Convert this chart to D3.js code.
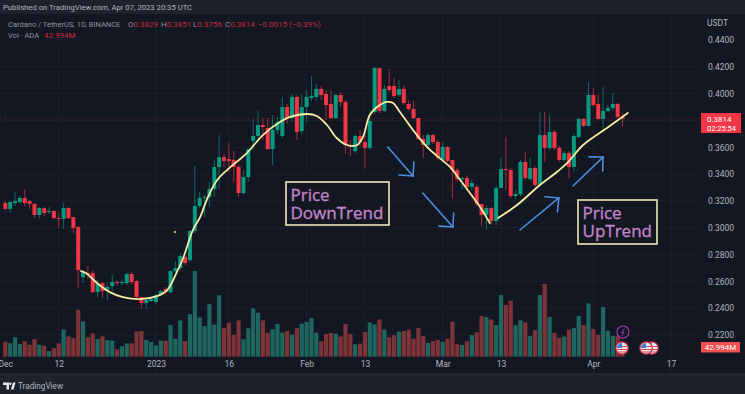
<!DOCTYPE html>
<html>
<head>
<meta charset="utf-8">
<script src="https://cdn.jsdelivr.net/npm/d3@7"></script>
<style>
  html, body { margin: 0; padding: 0; background: #131722; overflow: hidden; }
  text { font-family: Roboto, "Liberation Sans", sans-serif; }
</style>
</head>
<body>
<div id="chart"></div>
<script>
// Daily ADA/USDT candles, 1 Dec 2022 (day 0) to 7 Apr 2023 (day 127)
const opens = [
  .3184,.3140,.3184,.3192,.3222,.3199,.3177,.3095,.3147,.3117,
  .3124,.3072,.3065,.3147,.3080,.3005,.2632,.2662,.2662,.2520,
  .2587,.2535,.2565,.2595,.2587,.2587,.2655,.2602,.2483,.2438,
  .2453,.2446,.2505,.2543,.2520,.2677,.2699,.2781,.2759,.2976,
  .3162,.3222,.3229,.3289,.3453,.3527,.3512,.3505,.3453,.3259,
  .3378,.3647,.3684,.3766,.3744,.3587,.3729,.3684,.3900,.3818,
  .3975,.3721,.3900,.3967,.3975,.4035,.3997,.3923,.3818,.3990,
  .3938,.3617,.3572,.3684,.3639,.3595,.3863,.4191,.3871,.4057,
  .4057,.3990,.4035,.3923,.3885,.3818,.3662,.3617,.3691,.3639,
  .3505,.3602,.3505,.3430,.3363,.3371,.3304,.3304,.3177,.3095,
  .3147,.3050,.3296,.3438,.3430,.3236,.3251,.3490,.3363,.3445,
  .3319,.3691,.3595,.3714,.3595,.3505,.3557,.3453,.3677,.3811,
  .3759,.3990,.3923,.3811,.3871,.3893,.3923,.3829
];
const closes = [
  .3140,.3192,.3199,.3222,.3184,.3177,.3095,.3147,.3110,.3124,
  .3072,.3065,.3147,.3072,.2998,.2684,.2669,.2647,.2520,.2587,
  .2528,.2558,.2595,.2587,.2595,.2655,.2595,.2483,.2438,.2461,
  .2468,.2498,.2528,.2520,.2677,.2699,.2789,.2737,.2976,.3162,
  .3222,.3229,.3289,.3453,.3527,.3498,.3498,.3453,.3259,.3378,
  .3587,.3684,.3766,.3751,.3587,.3729,.3788,.3900,.3818,.3975,
  .3714,.3900,.3975,.3982,.4035,.3990,.3915,.3818,.3990,.3938,
  .3617,.3602,.3684,.3639,.3595,.3796,.4191,.3871,.4035,.4027,
  .3982,.4035,.3930,.3885,.3818,.3662,.3617,.3691,.3639,.3520,
  .3602,.3498,.3430,.3363,.3371,.3304,.3334,.3177,.3095,.3147,
  .3050,.3296,.3438,.3430,.3236,.3251,.3490,.3371,.3445,.3319,
  .3691,.3595,.3714,.3595,.3505,.3557,.3453,.3684,.3811,.3759,
  .3990,.3915,.3811,.3871,.3893,.3923,.3826,.3814
];
const highs = [
  .3199,.3199,.3266,.3236,.3289,.3207,.3184,.3154,.3154,.3154,
  .3132,.3110,.3184,.3154,.3080,.3013,.2684,.2714,.2684,.2610,
  .2595,.2587,.2647,.2610,.2617,.2669,.2669,.2610,.2483,.2468,
  .2483,.2505,.2535,.2558,.2684,.2752,.2804,.2789,.2983,.3460,
  .3266,.3244,.3341,.3505,.3691,.3550,.3632,.3572,.3468,.3430,
  .3587,.3811,.3871,.3818,.3818,.3841,.3826,.3975,.3923,.3997,
  .3990,.3990,.4027,.4131,.4072,.4057,.4027,.4027,.3997,.4012,
  .3952,.3654,.3699,.3729,.3729,.3878,.4199,.4191,.4064,.4184,
  .4117,.4102,.4064,.3952,.3945,.3818,.3691,.3706,.3699,.3654,
  .3639,.3610,.3505,.3445,.3378,.3386,.3356,.3319,.3177,.3169,
  .3154,.3311,.3520,.3677,.3445,.3281,.3505,.3565,.3520,.3460,
  .3863,.3863,.3841,.3729,.3610,.3572,.3572,.3699,.3826,.3818,
  .4087,.4042,.3990,.4050,.3915,.4005,.3930,.3851
];
const lows = [
  .3132,.3110,.3162,.3177,.3162,.3140,.3072,.3072,.3087,.3102,
  .3065,.2998,.2990,.3065,.2961,.2550,.2587,.2617,.2513,.2483,
  .2475,.2461,.2528,.2572,.2565,.2572,.2580,.2468,.2393,.2393,
  .2446,.2431,.2490,.2505,.2505,.2662,.2684,.2722,.2744,.2961,
  .3147,.3080,.3154,.3236,.3289,.3453,.3416,.3341,.3229,.3244,
  .3341,.3580,.3639,.3654,.3580,.3468,.3699,.3669,.3774,.3788,
  .3654,.3699,.3788,.3945,.3945,.3952,.3803,.3811,.3811,.3900,
  .3557,.3535,.3557,.3610,.3445,.3580,.3848,.3856,.3863,.4012,
  .3967,.3975,.3915,.3871,.3811,.3654,.3520,.3602,.3624,.3505,
  .3483,.3490,.3214,.3341,.3281,.3281,.3281,.3162,.3013,.2983,
  .3020,.3020,.3296,.3281,.3222,.3214,.3236,.3356,.3349,.3304,
  .3304,.3490,.3580,.3580,.3490,.3490,.3371,.3416,.3669,.3751,
  .3751,.3908,.3803,.3729,.3863,.3878,.3818,.3756
];
// Volume in millions of ADA
const volumes = [
  66,59,86,56,68,53,78,53,49,25,
  38,59,121,90,83,207,157,86,103,78,
  90,74,71,32,46,59,59,112,114,74,
  65,50,71,71,140,80,161,69,188,380,
  174,136,233,142,272,127,151,97,161,78,
  126,214,195,161,106,121,145,106,114,97,
  127,146,154,171,106,68,100,105,102,90,
  145,100,55,58,109,152,143,165,120,86,
  96,111,114,120,80,128,92,61,69,75,
  66,80,155,55,52,69,96,108,180,176,
  165,140,273,229,248,140,161,152,92,118,
  273,322,176,106,83,89,121,127,180,140,
  236,123,97,220,115,92,92,42.994
];

// Hand-drawn yellow trend curve, split at the March low
const downCurveDay = [15.6,16.6,18.9,21.5,24.2,27.7,31.2,33.3,35.3,36.6,38.6,40.1,41.7,43.6,45.6,49.7,53,56.5,58.6,62.1,64.1,66.2,68.2,70.3,72.4,73.6,75,76.5,78.5,79.8,81.2,84.7,87.4,91.5,93.6,95.6,97.7,99.7];
const downCurvePrice = [.2677,.2662,.2587,.2520,.2483,.2468,.2490,.2535,.2669,.2774,.2983,.3080,.3229,.3356,.3430,.3557,.3691,.3788,.3826,.3848,.3833,.3766,.3669,.3617,.3617,.3677,.3841,.3900,.3938,.3930,.3863,.3691,.3580,.3453,.3356,.3259,.3154,.3035];
const upCurveDay = [101.4,105.3,110,113.5,115.8,118.9,123.8,128.1];
const upCurvePrice = [.3072,.3169,.3319,.3416,.3490,.3617,.3744,.3856];

// Blue arrows: start day, start price, end day, end price
const arrowStartDay = [78.7,85.9,105.9,116.8];
const arrowStartPrice = [.3602,.3259,.2983,.3311];
const arrowEndDay = [83.9,92.1,113.9,123];
const arrowEndPrice = [.3386,.3005,.3222,.3527];

const priceTicks = [.44,.42,.40,.38,.36,.34,.32,.30,.28,.26,.24,.22];
const timeTickDays = [0,11,31,46,62,74,90,102,121,137];
const timeTickLabels = ['Dec','12','2023','16','Feb','13','Mar','13','Apr','17'];
const lastPrice = .3814;

const W = 745, H = 394;
const BG = '#131722', STRIP = '#1e222d', GRID = '#1c202b', TXT = '#b2b5be';
const UP = '#089981', DOWN = '#f23645';
const UP_VOL = '#1f6660', DOWN_VOL = '#7d3338';
const paneTop = 14, paneBottom = 374, scaleLeft = 697;

const svg = d3.select('#chart').append('svg')
  .attr('width', W).attr('height', H).attr('viewBox', `0 0 ${W} ${H}`)
  .style('display', 'block');

svg.append('rect').attr('width', W).attr('height', H).attr('fill', BG);

// Scales
const x = d3.scaleLinear().domain([0, 127]).range([5.3, 622.5]);
const y = d3.scaleLinear().domain([.44, .22]).range([40, 335]);
const yVol = d3.scaleLinear().domain([0, 443]).range([356.7, 256.7]);

// Grid
const grid = svg.append('g');
grid.selectAll('.gx').data(timeTickDays).join('line')
  .attr('x1', d => x(d)).attr('x2', d => x(d))
  .attr('y1', paneTop).attr('y2', paneBottom)
  .attr('stroke', GRID);
grid.selectAll('.gy').data(priceTicks).join('line')
  .attr('x1', 0).attr('x2', scaleLeft)
  .attr('y1', d => y(d)).attr('y2', d => y(d))
  .attr('stroke', GRID);

// Last price line
svg.append('line')
  .attr('x1', 0).attr('x2', 701)
  .attr('y1', y(lastPrice)).attr('y2', y(lastPrice))
  .attr('stroke', '#4d1a28').attr('stroke-dasharray', '1,1');

// Volume
const days = d3.range(opens.length);
const isUp = i => closes[i] >= opens[i];
svg.append('g').selectAll('rect').data(days).join('rect')
  .attr('x', i => x(i) - 2.1).attr('width', 4.2)
  .attr('y', i => yVol(volumes[i]))
  .attr('height', i => yVol(0) - yVol(volumes[i]))
  .attr('fill', i => isUp(i) ? UP_VOL : DOWN_VOL);

// Candles
const candles = svg.append('g');
candles.selectAll('line').data(days).join('line')
  .attr('x1', i => x(i)).attr('x2', i => x(i))
  .attr('y1', i => y(highs[i])).attr('y2', i => y(lows[i]))
  .attr('stroke', i => isUp(i) ? UP : DOWN)
  .attr('stroke-opacity', 0.65);
candles.selectAll('rect').data(days).join('rect')
  .attr('x', i => x(i) - 2).attr('width', 4)
  .attr('y', i => Math.min(y(opens[i]), y(closes[i])))
  .attr('height', i => Math.max(1, Math.abs(y(opens[i]) - y(closes[i]))))
  .attr('fill', i => isUp(i) ? UP : DOWN);

// Trend curves
const curve = (dayList, priceList) => d3.line()
  .x(i => x(dayList[i])).y(i => y(priceList[i]))
  .curve(d3.curveCatmullRom)(d3.range(dayList.length));
[[downCurveDay, downCurvePrice], [upCurveDay, upCurvePrice]].forEach(([a, b]) => {
  svg.append('path').attr('d', curve(a, b))
    .attr('fill', 'none').attr('stroke', '#f6eca2')
    .attr('stroke-width', 1.8).attr('stroke-linecap', 'round');
});
svg.append('circle').attr('cx', x(35.3) - 2).attr('cy', y(.2968)).attr('r', 1)
  .attr('fill', '#f6eca2');

// Arrows
arrowStartDay.forEach((d, i) => {
  const x0 = x(d), y0 = y(arrowStartPrice[i]);
  const x1 = x(arrowEndDay[i]), y1 = y(arrowEndPrice[i]);
  const ang = Math.atan2(y0 - y1, x0 - x1);
  const g = svg.append('g').attr('stroke', '#4a8fe0').attr('stroke-width', 1.6)
    .attr('fill', 'none').attr('stroke-linecap', 'round');
  g.append('line').attr('x1', x0).attr('y1', y0).attr('x2', x1).attr('y2', y1);
  [-0.78, 0.78].forEach(t => {
    g.append('line').attr('x1', x1).attr('y1', y1)
      .attr('x2', x1 + 14 * Math.cos(ang + t))
      .attr('y2', y1 + 14 * Math.sin(ang + t));
  });
});

// Note boxes
function noteBox(bx, by, bw, bh, lines, fs) {
  svg.append('rect').attr('x', bx).attr('y', by).attr('width', bw).attr('height', bh)
    .attr('fill', BG).attr('stroke', '#efe8b4').attr('stroke-width', 1.6);
  lines.forEach((t, i) => {
    svg.append('text').attr('x', bx + 4.5).attr('y', by + 18.5 + i * 18)
      .attr('font-size', fs).attr('fill', '#c384c8')
      .attr('stroke', '#c384c8').attr('stroke-width', 0.35)
      .style('font-family', '"Open Sans", sans-serif')
      .text(t);
  });
}
noteBox(286, 182, 103, 43, ['Price', 'DownTrend'], 17);
noteBox(578, 200, 79, 44, ['Price', 'UpTrend'], 17);

// Time axis
const xAxis = d3.axisBottom(x).tickValues(timeTickDays)
  .tickFormat((d, i) => timeTickLabels[i]).tickSize(0).tickPadding(0);
const gx = svg.append('g').attr('transform', 'translate(0,361)').call(xAxis);
gx.select('.domain').remove();
gx.selectAll('text').attr('fill', TXT).attr('font-size', 8.5)
  .style('font-family', 'Roboto, sans-serif');

// Price axis
const yAxis = d3.axisRight(y).tickValues(priceTicks)
  .tickFormat(d3.format('.4f')).tickSize(0).tickPadding(0);
const gy = svg.append('g').attr('transform', 'translate(708,0)').call(yAxis);
gy.select('.domain').remove();
gy.selectAll('text').attr('fill', TXT).attr('font-size', 8.5)
  .style('font-family', 'Roboto, sans-serif');
svg.append('text').attr('x', 707).attr('y', 26).attr('font-size', 8.5).attr('fill', TXT).text('USDT');

// Last price + countdown label
svg.append('rect').attr('x', 701).attr('y', 113).attr('width', 40).attr('height', 20).attr('fill', DOWN);
svg.append('text').attr('x', 707).attr('y', 121.5).attr('font-size', 8).attr('fill', '#fff').text(d3.format('.4f')(lastPrice));
svg.append('text').attr('x', 707).attr('y', 131).attr('font-size', 7.5).attr('fill', '#fff').text('02:25:54');

// Last volume label
svg.append('rect').attr('x', 701).attr('y', 342).attr('width', 39).attr('height', 10.5).attr('fill', '#f0514f');
svg.append('text').attr('x', 720.5).attr('y', 350.3).attr('text-anchor', 'middle')
  .attr('font-size', 8).attr('fill', '#fff').text('42.994M');

// Event icons
function flag(cx, cy) {
  const g = svg.append('g');
  g.append('circle').attr('cx', cx).attr('cy', cy).attr('r', 6.2)
    .attr('fill', '#e9e9ee').attr('stroke', '#c5283c').attr('stroke-width', 1.2);
  [-1.5, 1.5, 4].forEach(dy => g.append('line')
    .attr('x1', cx - 5).attr('x2', cx + 5).attr('y1', cy + dy).attr('y2', cy + dy)
    .attr('stroke', '#d8414f'));
  g.append('path').attr('d', `M${cx - 5},${cy}A5,5 0 0 1 ${cx},${cy - 5}L${cx},${cy}Z`).attr('fill', '#3c7fd8');
}
flag(652, 348); flag(646, 348); flag(622, 348);
svg.append('circle').attr('cx', 623).attr('cy', 332).attr('r', 6)
  .attr('fill', BG).attr('stroke', '#9c3bb5').attr('stroke-width', 1.1);
svg.append('path').attr('d', 'M624.5,328.5L621.5,332.5H624L621.8,335.8').attr('fill', 'none')
  .attr('stroke', '#9c3bb5').attr('stroke-width', 1);

// Header strip
svg.append('rect').attr('width', W).attr('height', paneTop).attr('fill', STRIP);
svg.append('text').attr('x', 3).attr('y', 10).attr('font-size', 7.7).attr('fill', TXT)
  .text('Published on TradingView.com, Apr 07, 2023 20:35 UTC');

// Legend
svg.append('text').attr('x', 8).attr('y', 27).attr('font-size', 7.5).attr('fill', '#8f929c')
  .text('Cardano / TetherUS, 1D, BINANCE');
const ohlcLabels = ['O', 'H', 'L', 'C', ''];
const ohlcValues = ['0.3829', '0.3851', '0.3756', '0.3814', '−0.0015 (−0.39%)'];
const ohlcX = [128, 161, 193, 225, 258];
ohlcLabels.forEach((k, i) => {
  const t = svg.append('text').attr('x', ohlcX[i]).attr('y', 27).attr('font-size', 8).attr('fill', '#8f929c');
  t.append('tspan').text(k);
  t.append('tspan').attr('fill', '#c8283f').text(ohlcValues[i]);
});
svg.append('text').attr('x', 8).attr('y', 38).attr('font-size', 7.5).attr('fill', '#8f929c').text('Vol · ADA');
svg.append('text').attr('x', 44).attr('y', 38).attr('font-size', 8).attr('fill', '#c8283f').text('42.994M');

// Footer strip
svg.append('rect').attr('y', paneBottom).attr('width', W).attr('height', H - paneBottom).attr('fill', STRIP);
svg.append('line').attr('x1', 0).attr('x2', W).attr('y1', paneBottom).attr('y2', paneBottom).attr('stroke', '#2a2e39');
svg.append('path').attr('d', 'M3,382.5H9V389.5H6.5V385H3ZM11,389.5L13,382.5H15.5L13.5,389.5Z')
  .attr('fill', '#e8e8ea');
svg.append('circle').attr('cx', 10.3).attr('cy', 383.8).attr('r', 1.2).attr('fill', '#e8e8ea');
svg.append('text').attr('x', 18).attr('y', 389).attr('font-size', 8.2).attr('fill', '#b2b5be').text('TradingView');
</script>
</body>
</html>
